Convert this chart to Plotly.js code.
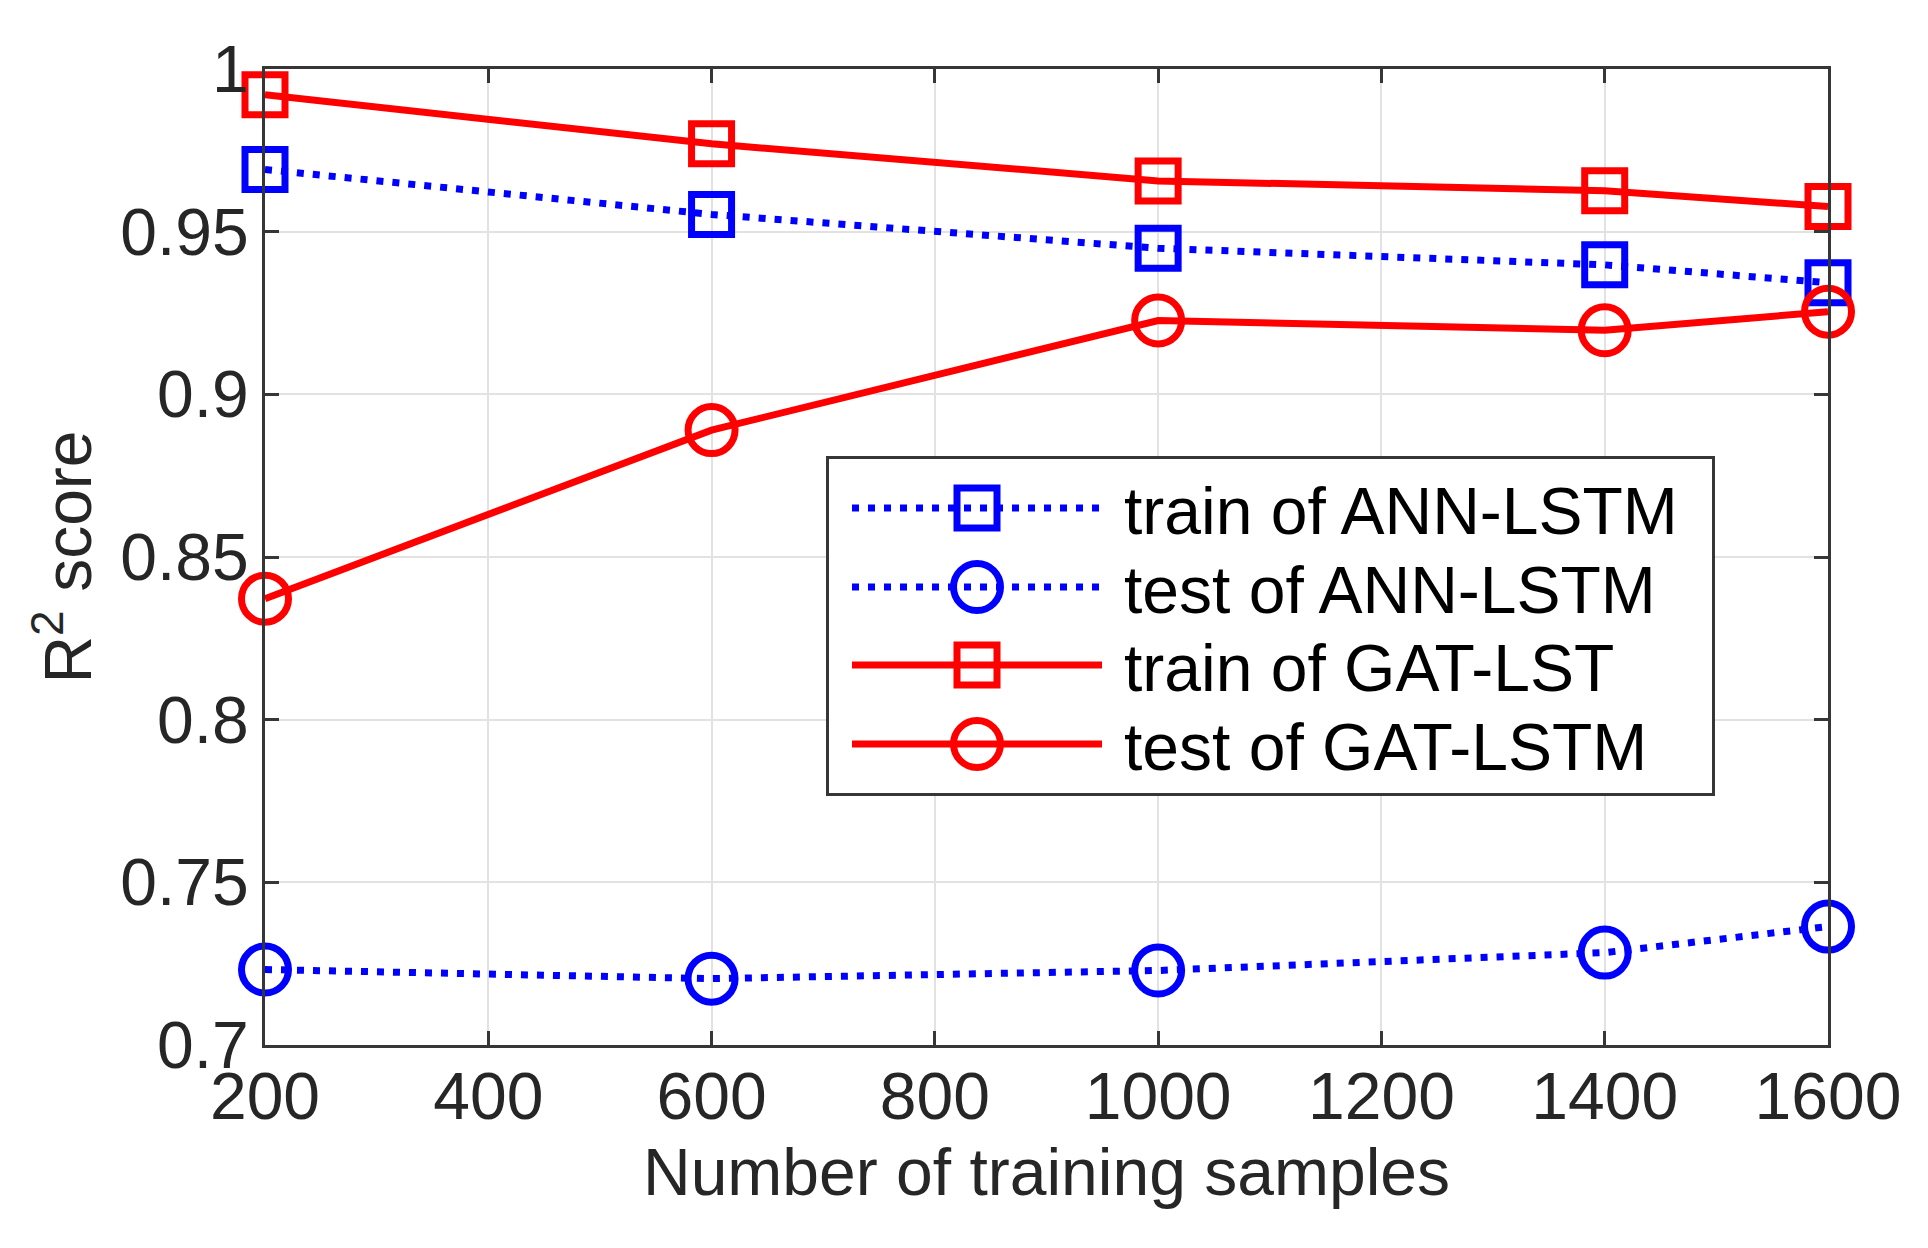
<!DOCTYPE html>
<html>
<head>
<meta charset="utf-8">
<script src="https://cdn.plot.ly/plotly-3.0.1.min.js"></script>
<style>
  html, body { margin: 0; padding: 0; background: #fff; }
  #chart { width: 1928px; height: 1248px; }
</style>
</head>
<body>
<div id="chart"></div>
<script>
// ---- data ----
const samples = [200, 600, 1000, 1400, 1600];
const trainANN = [0.9691, 0.9553, 0.9449, 0.9398, 0.9343];
const testANN  = [0.7232, 0.7204, 0.7229, 0.7284, 0.7364];
const trainGAT = [0.9921, 0.9770, 0.9656, 0.9626, 0.9577];
const testGAT  = [0.8372, 0.8890, 0.9227, 0.9197, 0.9254];

const seriesNames = ['train of ANN-LSTM', 'test of ANN-LSTM', 'train of GAT-LST', 'test of GAT-LSTM'];

const xTickVals = [200, 400, 600, 800, 1000, 1200, 1400, 1600];
const xTickText = ['200', '400', '600', '800', '1000', '1200', '1400', '1600'];
const yTickVals = [0.7, 0.75, 0.8, 0.85, 0.9, 0.95, 1];
const yTickText = ['0.7', '0.75', '0.8', '0.85', '0.9', '0.95', '1'];

const xTitle = 'Number of training samples';
const yTitle = 'R<sup>2</sup> score';

// ---- styling ----
const BLUE = '#0000ff';
const RED = '#ff0000';
const FONT = 'Liberation Sans, Arial, Helvetica, sans-serif';
const TXT = '#262626';
const AX = '#363636';
const LW = 7;

function mk(y, name, color, dash, symbol, size) {
  return {
    x: samples, y: y, name: name, type: 'scatter', mode: 'lines+markers',
    cliponaxis: false,
    line: { color: color, width: LW, dash: dash },
    marker: { symbol: symbol, size: size, color: color, line: { color: color, width: LW } }
  };
}

const traces = [
  mk(trainANN, seriesNames[0], BLUE, '7px,9px', 'square-open', 40),
  mk(testANN,  seriesNames[1], BLUE, '7px,9px', 'circle-open', 47),
  mk(trainGAT, seriesNames[2], RED, 'solid', 'square-open', 40),
  mk(testGAT,  seriesNames[3], RED, 'solid', 'circle-open', 47)
];

const axisCommon = {
  showline: true, linecolor: AX, linewidth: 3, mirror: 'ticks',
  ticks: 'inside', ticklen: 14, tickwidth: 3, tickcolor: AX,
  showgrid: true, gridcolor: '#e2e2e2', gridwidth: 2,
  zeroline: false, fixedrange: true,
  tickfont: { family: FONT, size: 66, color: TXT }
};

const layout = {
  width: 1928, height: 1248,
  paper_bgcolor: '#ffffff', plot_bgcolor: '#ffffff',
  margin: { l: 265, r: 100, t: 69, b: 203, pad: 0 },
  font: { family: FONT, color: TXT },
  showlegend: true,
  xaxis: Object.assign({}, axisCommon, {
    range: [200, 1600], tickmode: 'array', tickvals: xTickVals, ticktext: xTickText,
    ticklabelstandoff: -8,
    title: { text: xTitle, font: { family: FONT, size: 66, color: TXT }, standoff: 17 }
  }),
  yaxis: Object.assign({}, axisCommon, {
    range: [0.7, 1], tickmode: 'array', tickvals: yTickVals, ticktext: yTickText,
    title: { text: yTitle, font: { family: FONT, size: 66, color: TXT }, standoff: 8 }
  }),
  legend: {
    x: 0.359, y: 0.604, xanchor: 'left', yanchor: 'top',
    bgcolor: '#ffffff', bordercolor: AX, borderwidth: 3,
    font: { family: FONT, size: 66, color: '#000000' },
    itemwidth: 250, tracegroupgap: 0
  }
};

// legend box geometry (pixels), matched to the reference
const LEG = { left: 826, top: 456, w: 889, h: 340, rows: [52, 131, 209, 288],
              lineStart: 26, lineLen: 250, markX: 151, textX: 298 };

function tuneLegend() {
  const leg = document.querySelector('#chart .legend');
  if (!leg) return;
  leg.setAttribute('transform', 'translate(' + LEG.left + ',' + LEG.top + ')');
  const bg = leg.querySelector('rect.bg');
  if (bg) {
    bg.setAttribute('x', 1.5); bg.setAttribute('y', 1.5);
    bg.setAttribute('width', LEG.w - 3); bg.setAttribute('height', LEG.h - 3);
  }
  const sb = leg.querySelector('.scrollbox');
  if (sb) { sb.removeAttribute('clip-path'); sb.setAttribute('transform', 'translate(0,0)'); }
  const grp = leg.querySelector('.groups');
  if (grp) grp.setAttribute('transform', 'translate(0,0)');
  const items = leg.querySelectorAll('.traces');
  items.forEach(function (g, i) {
    if (i >= LEG.rows.length) return;
    g.setAttribute('transform', 'translate(0,' + LEG.rows[i] + ')');
    const ln = g.querySelectorAll('.legendlines path');
    ln.forEach(function (p) { p.setAttribute('d', 'M' + LEG.lineStart + ',0h' + LEG.lineLen); });
    const txt = g.querySelector('text.legendtext');
    if (txt) txt.setAttribute('x', LEG.textX);
    const pts = g.querySelectorAll('.legendpoints path.scatterpts');
    pts.forEach(function (p) {
      const sym = traces[i].marker.symbol;
      let d;
      if (sym.indexOf('square') === 0) {
        const r = 20;
        d = 'M' + r + ',' + r + 'H-' + r + 'V-' + r + 'H' + r + 'Z';
      } else {
        const r = 23.5;
        d = 'M' + r + ',0A' + r + ',' + r + ' 0 1,1 0,-' + r + 'A' + r + ',' + r + ' 0 0,1 ' + r + ',0Z';
      }
      p.setAttribute('d', d);
      p.setAttribute('transform', 'translate(' + LEG.markX + ',0)');
      p.style.strokeWidth = LW + 'px';
    });
  });
}

Plotly.newPlot('chart', traces, layout, { displayModeBar: false, staticPlot: true }).then(function (gd) {
  tuneLegend();
  gd.on('plotly_afterplot', tuneLegend);
});
</script>
</body>
</html>
